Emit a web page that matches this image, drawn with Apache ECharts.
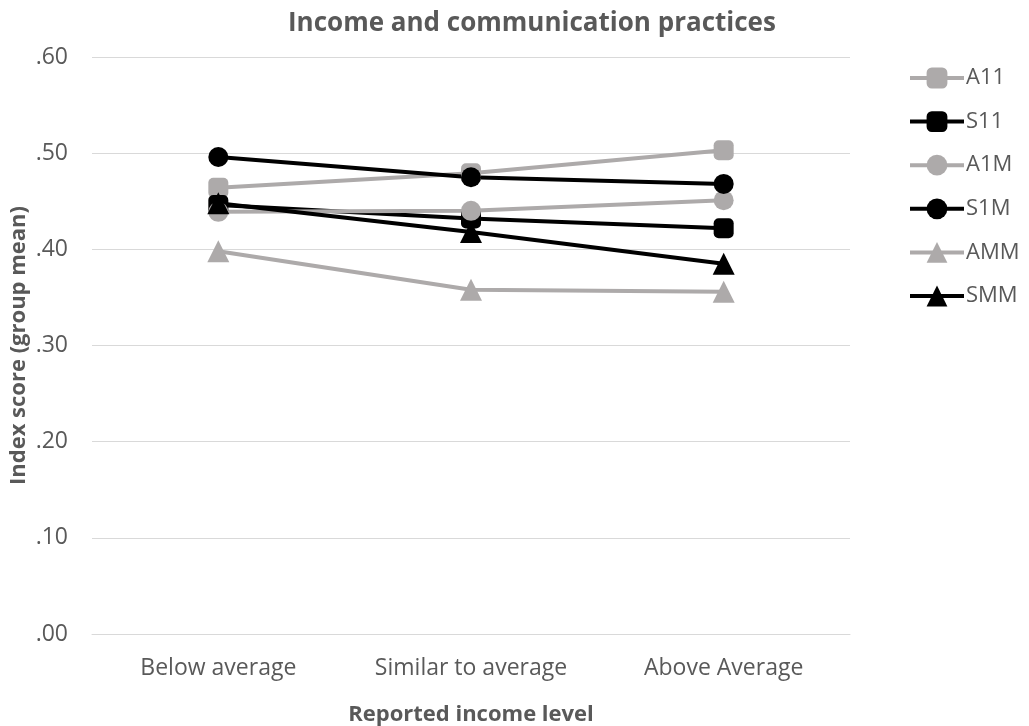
<!DOCTYPE html>
<html>
<head>
<meta charset="utf-8">
<script src="https://cdn.jsdelivr.net/npm/echarts@6/dist/echarts.min.js"></script>
<style>
  html, body { margin: 0; padding: 0; background: #fff; }
  #chart { width: 1029px; height: 726px; }
</style>
</head>
<body>
<div id="chart"></div>
<script>
// Income categories on the x axis
const categories = ['Below average', 'Similar to average', 'Above Average'];

// Group mean index scores per series
const A11 = [0.464, 0.479, 0.503];
const S11 = [0.446, 0.432, 0.422];
const A1M = [0.439, 0.440, 0.451];
const S1M = [0.496, 0.475, 0.468];
const AMM = [0.398, 0.358, 0.356];
const SMM = [0.448, 0.418, 0.385];

const GRAY = '#ADAAAA';
const BLACK = '#000000';
const TEXT = '#595959';
const FONT = '"Open Sans", "Liberation Sans", sans-serif';

function mk(name, data, color, symbol) {
  return {
    name: name,
    type: 'line',
    data: data,
    symbol: symbol,
    symbolSize: symbol === 'triangle' ? 22 : 20,
    lineStyle: { color: color, width: 4 },
    itemStyle: { color: color },
    emphasis: { disabled: true },
    animation: false
  };
}

const chart = echarts.init(document.getElementById('chart'), null, { renderer: 'canvas' });
chart.setOption({
  backgroundColor: '#fff',
  animation: false,
  title: {
    text: 'Income and communication practices',
    left: 283,
    top: 6,
    textStyle: { fontFamily: FONT, fontSize: 26, fontWeight: 'bold', color: TEXT }
  },
  legend: {
    orient: 'vertical',
    left: 903,
    top: 62,
    itemGap: 21.6,
    itemWidth: 54,
    itemHeight: 26,
    lineStyle: { width: 4 },
    textStyle: { fontFamily: FONT, fontSize: 22, color: TEXT, padding: [0, 0, 0, -3] },
    data: ['A11', 'S11', 'A1M', 'S1M', 'AMM', 'SMM']
  },
  grid: { left: 92, right: 179, top: 57, bottom: 92, containLabel: false, outerBoundsMode: 'none' },
  xAxis: {
    type: 'category',
    data: categories,
    boundaryGap: true,
    name: 'Reported income level',
    nameLocation: 'middle',
    nameGap: 70,
    nameMoveOverlap: false,
    nameTextStyle: { fontFamily: FONT, fontSize: 22, fontWeight: 'bold', color: TEXT },
    axisLine: { lineStyle: { color: '#D9D9D9', width: 1 } },
    axisTick: { show: false },
    axisLabel: { fontFamily: FONT, fontSize: 23, color: TEXT, margin: 23, interval: 0 }
  },
  yAxis: {
    type: 'value',
    min: 0,
    max: 0.6,
    interval: 0.1,
    name: 'Index score (group mean)',
    nameLocation: 'middle',
    nameGap: 62,
    nameMoveOverlap: false,
    nameRotate: 90,
    nameTextStyle: { fontFamily: FONT, fontSize: 22, fontWeight: 'bold', color: TEXT },
    axisLine: { show: false },
    axisTick: { show: false },
    splitLine: { lineStyle: { color: '#D9D9D9', width: 1 } },
    axisLabel: {
      fontFamily: FONT, fontSize: 23, color: TEXT, margin: 24,
      formatter: v => v.toFixed(2).replace(/^0/, '')
    }
  },
  series: [
    mk('A11', A11, GRAY, 'roundRect'),
    mk('S11', S11, BLACK, 'roundRect'),
    mk('A1M', A1M, GRAY, 'circle'),
    mk('S1M', S1M, BLACK, 'circle'),
    mk('AMM', AMM, GRAY, 'triangle'),
    mk('SMM', SMM, BLACK, 'triangle')
  ]
});
</script>
</body>
</html>
